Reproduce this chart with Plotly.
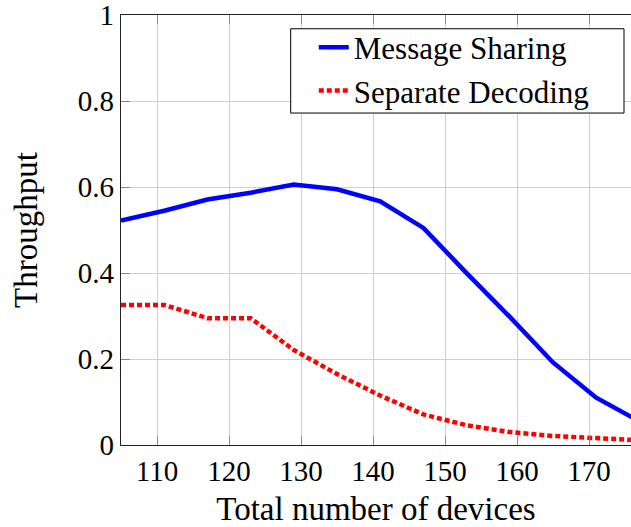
import plotly.graph_objects as go

# Throughput versus total number of devices
devices = [105, 111, 117, 123, 129, 135, 141, 147, 153, 159, 165, 171, 177]
message_sharing = [0.522, 0.545, 0.571, 0.587, 0.606, 0.595, 0.567, 0.505, 0.400, 0.298, 0.192, 0.110, 0.055]
separate_decoding = [0.326, 0.326, 0.295, 0.295, 0.221, 0.165, 0.115, 0.071, 0.046, 0.030, 0.021, 0.017, 0.011]

x_ticks = [110, 120, 130, 140, 150, 160, 170]
y_ticks = [0, 0.2, 0.4, 0.6, 0.8, 1]
y_tick_text = ["0", "0.2", "0.4", "0.6", "0.8", "1"]

FONT = "Liberation Serif"

fig = go.Figure()
fig.add_trace(go.Scatter(
    x=devices, y=message_sharing, mode="lines", name="Message Sharing",
    line=dict(color="#0000ff", width=4.5),
))
fig.add_trace(go.Scatter(
    x=devices, y=separate_decoding, mode="lines", name="Separate Decoding",
    line=dict(color="#ff0000", width=4.5, dash="5px,3px"),
))

# legend frame (white box with thin black border)
fig.add_shape(
    type="rect", xref="paper", yref="paper",
    x0=0.3327, x1=0.9863, y0=0.772, y1=0.968,
    line=dict(color="black", width=1), fillcolor="white", layer="above",
)

fig.update_layout(
    width=631, height=527,
    margin=dict(l=121, r=0, t=15, b=82, autoexpand=False),
    paper_bgcolor="white", plot_bgcolor="white",
    font=dict(family=FONT, size=29, color="black"),
    showlegend=True,
    legend=dict(
        x=0.378, y=0.987, xanchor="left", yanchor="top",
        borderwidth=0, bgcolor="rgba(0,0,0,0)",
        font=dict(family=FONT, size=31),
        tracegroupgap=0, itemwidth=30,
    ),
    xaxis=dict(
        range=[105, 175.83], tickvals=x_ticks,
        showgrid=True, gridcolor="#cfcfcf", gridwidth=1,
        showline=True, linecolor="#222", linewidth=1.2, mirror="ticks",
        ticks="inside", ticklen=9, tickcolor="#888", tickwidth=1,
        zeroline=False,
        title=dict(text="Total number of devices", font=dict(size=33), standoff=10),
        tickfont=dict(size=29),
    ),
    yaxis=dict(
        range=[0, 1.0004], tickmode="array", tickvals=y_ticks, ticktext=y_tick_text,
        ticklabeloverflow="allow",
        showgrid=True, gridcolor="#cfcfcf", gridwidth=1,
        showline=True, linecolor="#222", linewidth=1.2,
        ticks="inside", ticklen=9, tickcolor="#888", tickwidth=1,
        zeroline=False,
        title=dict(text="Throughput", font=dict(size=33), standoff=30),
        tickfont=dict(size=29),
    ),
)

fig.write_html("out.html")
